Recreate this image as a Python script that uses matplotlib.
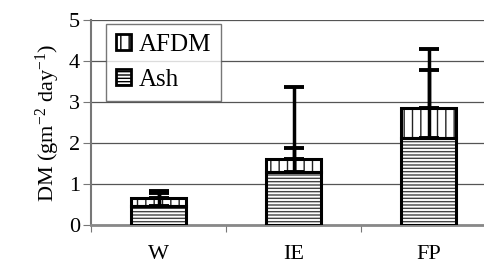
import matplotlib.pyplot as plt
from matplotlib.patches import Patch

plt.rcParams['font.family'] = ['Liberation Serif', 'DejaVu Serif']
plt.rcParams['mathtext.fontset'] = 'custom'
plt.rcParams['mathtext.rm'] = 'Liberation Serif'
plt.rcParams['mathtext.it'] = 'Liberation Serif:italic'
plt.rcParams['hatch.linewidth'] = 1.0

# data
sites = ['W', 'IE', 'FP']
ash = [0.47, 1.30, 2.12]
afdm = [0.18, 0.30, 0.73]
ash_err = [0.31, 0.57, 1.66]
afdm_err = [0.17, 1.77, 1.44]

x = list(range(len(sites)))
total = [a + b for a, b in zip(ash, afdm)]

fig = plt.figure(figsize=(4.84, 2.67), dpi=100)
ax = fig.add_axes([0.188, 0.157, 0.837, 0.768])

w = 0.41
# hatched fills, then black outlines on top
ax.bar(x, ash, w, color='white', edgecolor='#444444', hatch='-----', linewidth=0, zorder=2)
ax.bar(x, afdm, w, bottom=ash, color='white', edgecolor='#222222', hatch='||', linewidth=0, zorder=2)
ax.bar(x, ash, w, fill=False, edgecolor='black', linewidth=2.2, zorder=3)
ax.bar(x, afdm, w, bottom=ash, fill=False, edgecolor='black', linewidth=2.2, zorder=3)

# upper error bars only
ax.errorbar(x, ash, yerr=[[0] * 3, ash_err], fmt='none', ecolor='black',
            elinewidth=2.5, capsize=7, capthick=2.8, zorder=4)
ax.errorbar(x, total, yerr=[[0] * 3, afdm_err], fmt='none', ecolor='black',
            elinewidth=2.5, capsize=7, capthick=2.8, zorder=4)

ax.set_ylim(0, 5)
ax.set_xlim(-0.5, 2.5)
ax.set_yticks([0, 1, 2, 3, 4, 5])
ax.yaxis.grid(True, color='#555555', linewidth=0.9)
ax.set_axisbelow(True)

ax.set_xticks([-0.5, 0.5, 1.5], minor=False)
ax.set_xticklabels([])
ax.set_xticks(x, minor=True)
ax.set_xticklabels(sites, minor=True)
ax.tick_params(axis='x', which='minor', length=0, pad=14, labelsize=16)
ax.tick_params(axis='x', which='major', length=5, color='#777777')
ax.tick_params(axis='y', length=6, color='#777777', labelsize=16, pad=2)

for s in ['top', 'right']:
    ax.spines[s].set_visible(False)
ax.spines['left'].set_color('#777777')
ax.spines['left'].set_linewidth(1.5)
ax.spines['bottom'].set_color('#888888')
ax.spines['bottom'].set_linewidth(2)

ax.set_ylabel('DM (gm$^{\\mathrm{-2}}$ day$^{\\mathrm{-1}}$)', fontsize=16, labelpad=5)

handles = [Patch(facecolor='white', edgecolor='black', hatch='||', linewidth=2),
           Patch(facecolor='white', edgecolor='black', hatch='-----', linewidth=2)]
leg = ax.legend(handles, ['AFDM', 'Ash'], loc='upper left', bbox_to_anchor=(0.037, 0.98),
                fontsize=18, frameon=True, fancybox=False, handlelength=0.6,
                handleheight=0.6, handletextpad=0.3, labelspacing=0.5,
                borderpad=0.4, borderaxespad=0)
leg.get_frame().set_edgecolor('#555555')
leg.get_frame().set_linewidth(1)

fig.savefig('out.png', dpi=100)
